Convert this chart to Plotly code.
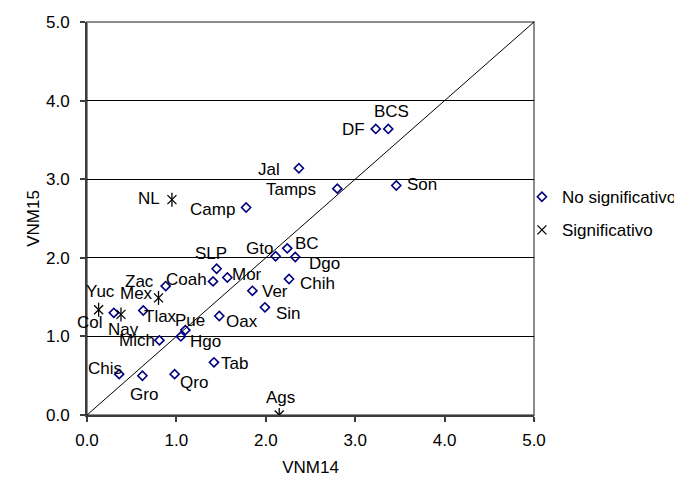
import plotly.graph_objects as go

# ---- data ----
ns_names = ["Chis", "Gro", "Qro", "Tab", "Mich", "Hgo", "Pue", "Oax", "Sin", "Ver",
            "Tlax", "Col", "Zac", "Coah", "SLP", "Mor", "Chih", "Dgo", "BC", "Gto",
            "Camp", "Tamps", "Jal", "DF", "BCS", "Son"]
ns_vnm14 = [0.36, 0.62, 0.98, 1.42, 0.81, 1.05, 1.10, 1.48, 1.99, 1.85,
            0.63, 0.30, 0.88, 1.41, 1.45, 1.57, 2.26, 2.33, 2.24, 2.11,
            1.78, 2.80, 2.37, 3.23, 3.37, 3.46]
ns_vnm15 = [0.52, 0.50, 0.52, 0.67, 0.95, 1.00, 1.08, 1.26, 1.37, 1.58,
            1.33, 1.30, 1.64, 1.70, 1.86, 1.75, 1.73, 2.01, 2.12, 2.02,
            2.64, 2.88, 3.14, 3.64, 3.64, 2.92]

sig_names = ["NL", "Mex", "Yuc", "Nay", "Ags"]
sig_vnm14 = [0.95, 0.80, 0.13, 0.38, 2.15]
sig_vnm15 = [2.74, 1.49, 1.34, 1.28, 0.00]

diag = [0, 5]
tick_vals = [0, 1, 2, 3, 4, 5]
tick_text = ["0.0", "1.0", "2.0", "3.0", "4.0", "5.0"]

# label offsets in pixels (dx right, dy down) -- style only
label_offset = {
    "Chis": (-14, -6), "Gro": (2, 19), "Qro": (19, 8), "Tab": (21, 1), "Mich": (-22, 0),
    "Hgo": (25, 5), "Pue": (5, -10), "Oax": (23, 6), "Sin": (24, 6), "Ver": (23, 1),
    "Tlax": (17, 6), "Col": (-24, 10), "Zac": (-26, -5), "Coah": (-27, -2), "SLP": (-6, -15),
    "Mor": (20, -3), "Chih": (28, 4), "Dgo": (29, 6), "BC": (20, -5), "Gto": (-16, -8),
    "Camp": (-34, 2), "Tamps": (-46, 1), "Jal": (-30, 1), "DF": (-22, 1), "BCS": (3, -17),
    "Son": (26, -1), "NL": (-23, -1), "Mex": (-22, -4), "Yuc": (2, -18), "Nay": (3, 15),
    "Ags": (1, -18),
}

FONT = "Liberation Sans, Arial, sans-serif"
FS = 17

fig = go.Figure()

fig.add_trace(go.Scatter(x=diag, y=diag, mode="lines",
                         line=dict(color="black", width=1),
                         showlegend=False, hoverinfo="skip"))

fig.add_trace(go.Scatter(x=ns_vnm14, y=ns_vnm15, mode="markers", name="No significativo",
                         legendgroup="a",
                         marker=dict(symbol="diamond-open", size=7, color="#000080",
                                     line=dict(width=1.6, color="#000080")),
                         text=ns_names))

fig.add_trace(go.Scatter(x=sig_vnm14, y=sig_vnm15, mode="markers", name="Significativo",
                         legendgroup="b",
                         marker=dict(symbol="x-thin-open", size=9, color="black",
                                     line=dict(width=1.3, color="black")),
                         text=sig_names))
fig.add_trace(go.Scatter(x=sig_vnm14, y=sig_vnm15, mode="markers", showlegend=False,
                         legendgroup="b", hoverinfo="skip",
                         marker=dict(symbol="line-ns-open", size=10, color="black",
                                     line=dict(width=1.3, color="black"))))

annotations = []
for names, xs, ys in [(ns_names, ns_vnm14, ns_vnm15), (sig_names, sig_vnm14, sig_vnm15)]:
    for n, xv, yv in zip(names, xs, ys):
        dx, dy = label_offset[n]
        annotations.append(dict(x=xv, y=yv, xref="x", yref="y", text=n, showarrow=False,
                                xanchor="center", yanchor="middle",
                                xshift=dx, yshift=-dy,
                                font=dict(family=FONT, size=FS, color="black")))

# the page body adds an 8px margin at left/top
fig.update_layout(
    width=674, height=469,
    margin=dict(l=79, r=148, t=14, b=62, autoexpand=False),
    paper_bgcolor="white", plot_bgcolor="white",
    font=dict(family=FONT, size=FS, color="black"),
    annotations=annotations,
    showlegend=True,
    legend=dict(x=0.973, y=0.60, xanchor="left", yanchor="top",
                font=dict(family=FONT, size=17, color="black"),
                bgcolor="rgba(0,0,0,0)", borderwidth=0,
                itemwidth=30, tracegroupgap=8, traceorder="grouped"),
    shapes=[dict(type="rect", xref="paper", yref="paper", x0=0, y0=0, x1=1, y1=1,
                 line=dict(color="#8c8c8c", width=2), layer="below")],
)

fig.update_xaxes(range=[0, 5], tickvals=tick_vals, ticktext=tick_text,
                 showgrid=False, zeroline=False, automargin=True,
                 showline=True, linecolor="#3c3c3c", linewidth=2,
                 ticks="outside", ticklen=5, tickcolor="#3c3c3c", tickwidth=1.5,
                 ticklabelstandoff=4,
                 title=dict(text="VNM14", standoff=18, font=dict(size=FS)))
fig.update_yaxes(range=[0, 5], tickvals=tick_vals, ticktext=tick_text,
                 showgrid=True, gridcolor="black", gridwidth=1, zeroline=False,
                 automargin=True,
                 showline=True, linecolor="#3c3c3c", linewidth=2,
                 ticks="outside", ticklen=5, tickcolor="#3c3c3c", tickwidth=1.5,
                 ticklabelstandoff=7,
                 title=dict(text="VNM15", standoff=2, font=dict(size=FS)))

fig.write_html("out.html")
